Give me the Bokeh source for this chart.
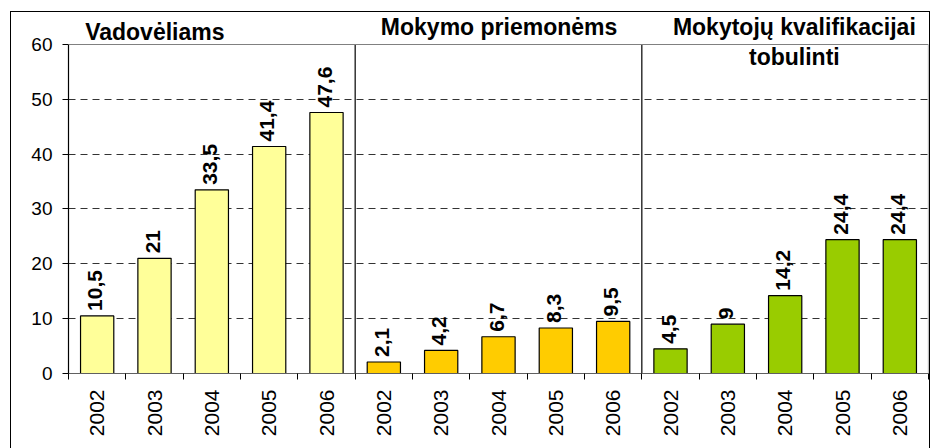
import math
from bokeh.plotting import figure
from bokeh.models import ColumnDataSource, FixedTicker, Span, Label
from bokeh.core.properties import value
from bokeh.embed import file_html
from bokeh.resources import INLINE

years = ["2002", "2003", "2004", "2005", "2006"]
group_titles = ["Vadovėliams", "Mokymo priemonėms", "Mokytojų kvalifikacijai", "tobulinti"]
vadoveliams = [10.5, 21, 33.5, 41.4, 47.6]
priemonems = [2.1, 4.2, 6.7, 8.3, 9.5]
kvalifikacijai = [4.5, 9, 14.2, 24.4, 24.4]
colors = ["#FFFF99", "#FFCC00", "#99CC00"]
y_ticks = [0, 10, 20, 30, 40, 50, 60]

series = [vadoveliams, priemonems, kvalifikacijai]
xs, ys, cols, labs, yrs = [], [], [], [], []
for gi, vals in enumerate(series):
    for yi, v in enumerate(vals):
        xs.append(gi * len(years) + yi + 0.5)
        ys.append(v)
        cols.append(colors[gi])
        labs.append(("%g" % v).replace(".", ","))
        yrs.append(years[yi])
src = ColumnDataSource(dict(x=xs, top=ys, color=cols, label=labs))

n = len(xs)
y_max = y_ticks[-1]
FONT = "Liberation Sans"

p = figure(width=930, height=448, output_backend="svg", toolbar_location=None,
           x_range=(0, n), y_range=(0, 65.47), tools="",
           min_border_left=68, min_border_right=2, min_border_top=14, min_border_bottom=75)
p.styles = {
    "background-image": "linear-gradient(#000,#000), linear-gradient(#000,#000), linear-gradient(#000,#000)",
    "background-position": "10px 11px, 10px 11px, 929px 11px",
    "background-size": "1px 437px, 920px 1px, 1px 437px",
    "background-repeat": "no-repeat",
}
p.outline_line_color = None
p.background_fill_color = "white"
p.border_fill_alpha = 0

p.vbar(x="x", top="top", width=0.58, bottom=0, source=src, fill_color="color",
       line_color="black", line_width=1.2)

p.text(x="x", y="top", text="label", source=src, angle=math.pi / 2, text_align="left",
       text_baseline="middle", y_offset=-5, x_offset=-2, text_font=value(FONT),
       text_font_style="bold", text_font_size="21px", text_color="black")

# plot-area top line and right edge, group separators
p.add_layout(Span(location=y_max, dimension="width", line_color="#808080", line_width=1.2))
p.segment(x0=[n], y0=[0], x1=[n], y1=[y_max], line_color="#808080", line_width=1.2)
seps = [len(years), 2 * len(years)]
p.segment(x0=seps, y0=[0] * 2, x1=seps, y1=[y_max] * 2, line_color="black", line_width=1.2)

# x axis
xa = p.xaxis[0]
xa.ticker = FixedTicker(ticks=xs, minor_ticks=list(range(n + 1)))
xa.major_label_overrides = {x: y for x, y in zip(xs, yrs)}
xa.major_label_orientation = math.pi / 2
xa.major_tick_line_color = None
xa.minor_tick_line_color = "black"
xa.minor_tick_in = 0
xa.minor_tick_out = 6
xa.axis_line_color = "#606060"
xa.axis_line_width = 1.2
xa.major_label_standoff = 10
xa.major_label_text_font = FONT
xa.major_label_text_font_size = "21px"
xa.major_label_text_color = "black"

# y axis
ya = p.yaxis[0]
ya.ticker = FixedTicker(ticks=y_ticks)
ya.bounds = (0, y_max)
ya.axis_line_color = "black"
ya.axis_line_width = 1.2
ya.major_tick_in = 0
ya.major_tick_out = 6
ya.minor_tick_line_color = None
ya.major_label_standoff = 10
ya.major_label_text_font = FONT
ya.major_label_text_font_size = "19px"
ya.major_label_text_color = "black"

p.xgrid.visible = False
p.ygrid.ticker = FixedTicker(ticks=y_ticks[1:-1])
p.ygrid.grid_line_color = "#333333"
p.ygrid.grid_line_dash = "7 5"
p.ygrid.grid_line_width = 1

title_specs = [
    (group_titles[0], 0.29, 62.3, "left"),
    (group_titles[1], 7.51, 63.2, "center"),
    (group_titles[2], 12.66, 63.2, "center"),
    (group_titles[3], 12.66, 57.7, "center"),
]
for t, x, y, al in title_specs:
    p.add_layout(Label(x=x, y=y, text=t, text_align=al, text_baseline="alphabetic",
                       text_font=FONT, text_font_style="bold", text_font_size="23px",
                       text_color="black"))

open("out.html", "w").write(file_html(p, INLINE))
